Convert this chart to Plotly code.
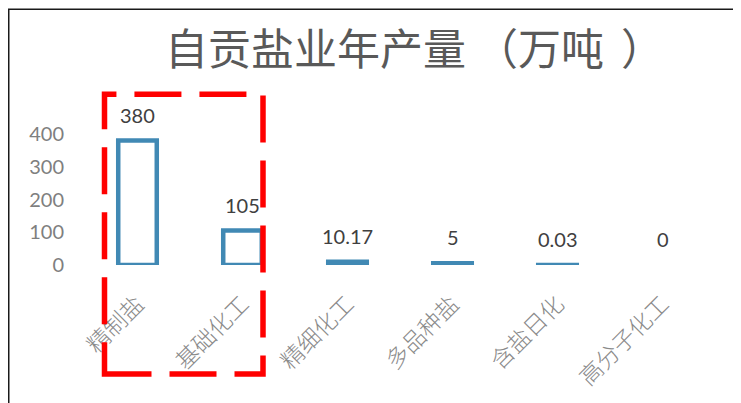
import plotly.graph_objects as go

categories = ["精制盐", "基础化工", "精细化工", "多品种盐", "含盐日化", "高分子化工"]
values = [380, 105, 10.17, 5, 0.03, 0]
value_labels = ["380", "105", "10.17", "5", "0.03", "0"]
y_ticks = [0, 100, 200, 300, 400]
title_text = "自贡盐业年产量（万吨）"

# figure sits at an 8px page margin, so size it to the visible window
W, H = 733, 395
ML, MR, MT, MB = 77, 26, 126, 137.5
PW, PH = W - ML - MR, H - MT - MB
Y_MAX = 400
K = PH / Y_MAX            # px per unit
CAT_PX = PW / len(categories)

STROKE = 4.5              # outline thickness in px
BAR_W = 0.367             # bar width in category units (stroke centre)
s_units = STROKE / K
s_cat = STROKE / CAT_PX

def px_x(px):
    return (px - ML) / PW

def px_y(py):
    return (H - MB - py) / PH

# centre the full-width brackets in their cells (as in the original font)
def spaced_title(t):
    out = []
    for i, ch in enumerate(t):
        nxt = t[i + 1] if i + 1 < len(t) else ""
        if nxt == "（":
            out.append("<span style='letter-spacing:9px'>" + ch + "</span>")
        elif nxt == "）":
            out.append("<span style='letter-spacing:17px'>" + ch + "</span>")
        else:
            out.append(ch)
    return "".join(out)

outer_y = [v + s_units if v > 0 else None for v in values]
inner_y = [v - s_units if v > s_units else None for v in values]

fig = go.Figure()
fig.add_trace(go.Bar(
    x=categories, y=outer_y, base=-s_units / 2, width=BAR_W + s_cat,
    marker=dict(color="#4189b4", line=dict(width=0)), cliponaxis=False, hoverinfo="skip",
))
fig.add_trace(go.Bar(
    x=categories, y=inner_y, base=s_units / 2, width=BAR_W - s_cat,
    marker=dict(color="white", line=dict(width=0)), cliponaxis=False, hoverinfo="skip",
))

for c, v, t in zip(categories, values, value_labels):
    fig.add_annotation(x=c, y=v, xref="x", yref="y", text=t, showarrow=False,
                       yanchor="bottom", yshift=12,
                       font=dict(family="Lato, Liberation Sans, sans-serif", size=20, color="#404040"))

# red dashed highlight box
fig.add_shape(type="rect", xref="paper", yref="paper",
              x0=px_x(96.5), x1=px_x(255), y0=px_y(367), y1=px_y(86),
              line=dict(color="#ff0000", width=5.5, dash="47px,18px"), fillcolor="rgba(0,0,0,0)")

# outer frame (left and top)
fig.add_shape(type="line", xref="paper", yref="paper",
              x0=px_x(0.75), x1=px_x(0.75), y0=px_y(0.75), y1=px_y(H + 10),
              line=dict(color="#1a1a1a", width=1.5))
fig.add_shape(type="line", xref="paper", yref="paper",
              x0=px_x(0), x1=px_x(W + 10), y0=px_y(0.75), y1=px_y(0.75),
              line=dict(color="#1a1a1a", width=1.5))

fig.update_layout(
    width=W, height=H,
    margin=dict(l=ML, r=MR, t=MT, b=MB, pad=0),
    paper_bgcolor="white", plot_bgcolor="white",
    showlegend=False, barmode="overlay",
    title=dict(text=spaced_title(title_text), x=406.5 / W, xanchor="center", y=1 - 42 / H,
               yanchor="middle",
               font=dict(family="Noto Sans CJK SC", size=43, color="#595959")),
    xaxis=dict(type="category", range=[-0.5, 5.5], showgrid=False, showline=False, zeroline=False,
               tickangle=-45, ticks="", ticklabelstandoff=20,
               tickfont=dict(family="Noto Sans CJK SC", size=23, color="#8a8a8a", weight=300)),
    yaxis=dict(range=[0, Y_MAX], tickvals=y_ticks, showgrid=False, showline=False, zeroline=False,
               ticks="", ticklabelstandoff=20,
               tickfont=dict(family="Lato, Liberation Sans, sans-serif", size=20, color="#7f7f7f")),
)

fig.write_html("out.html")
